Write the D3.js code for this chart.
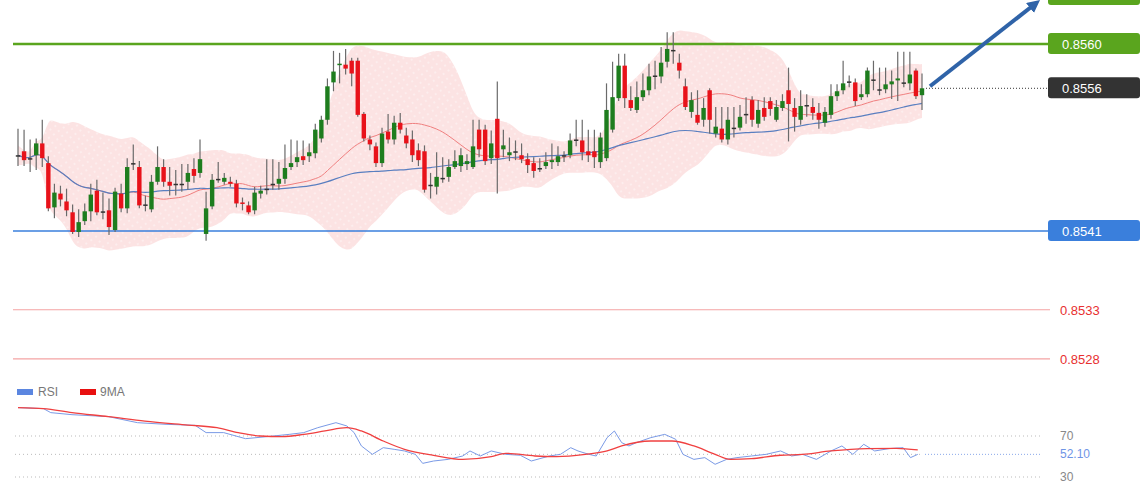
<!DOCTYPE html>
<html><head><meta charset="utf-8">
<script src="https://cdn.jsdelivr.net/npm/d3@7/dist/d3.min.js"></script>
<style>body{margin:0;background:#fff}svg{display:block;font-family:"Liberation Sans",Arial,sans-serif}</style>
</head><body><svg id="c" width="1140" height="500"></svg>
<script>
// candles: [open, close, high, low]
const candles = [
[0.85487,0.85487,0.85514,0.85476],[0.85491,0.85482,0.85513,0.85476],[0.85484,0.85484,0.85503,0.85470],[0.85487,0.85499,0.85504,0.85472],[0.85499,0.85484,0.85523,0.85475],
[0.85479,0.85433,0.85486,0.85430],[0.85434,0.85449,0.85458,0.85423],[0.85448,0.85442,0.85456,0.85435],[0.85440,0.85431,0.85453,0.85425],[0.85429,0.85409,0.85437,0.85407],
[0.85409,0.85419,0.85432,0.85404],[0.85420,0.85430,0.85438,0.85416],[0.85430,0.85447,0.85458,0.85420],[0.85451,0.85429,0.85462,0.85426],[0.85430,0.85430,0.85449,0.85422],
[0.85431,0.85414,0.85443,0.85406],[0.85411,0.85450,0.85454,0.85409],[0.85448,0.85433,0.85458,0.85429],[0.85433,0.85475,0.85484,0.85428],[0.85479,0.85479,0.85498,0.85472],
[0.85475,0.85436,0.85481,0.85433],[0.85437,0.85437,0.85446,0.85430],[0.85432,0.85460,0.85467,0.85429],[0.85460,0.85475,0.85496,0.85457],[0.85475,0.85460,0.85483,0.85455],
[0.85460,0.85456,0.85475,0.85446],[0.85458,0.85458,0.85472,0.85446],[0.85458,0.85458,0.85478,0.85450],[0.85460,0.85469,0.85478,0.85452],[0.85473,0.85466,0.85484,0.85459],
[0.85469,0.85483,0.85503,0.85464],[0.85407,0.85433,0.85450,0.85400],[0.85435,0.85462,0.85468,0.85432],[0.85463,0.85463,0.85480,0.85459],[0.85460,0.85464,0.85469,0.85457],
[0.85460,0.85458,0.85465,0.85455],[0.85458,0.85438,0.85462,0.85434],[0.85439,0.85438,0.85444,0.85431],[0.85436,0.85429,0.85440,0.85427],[0.85431,0.85449,0.85455,0.85427],
[0.85448,0.85451,0.85456,0.85443],[0.85453,0.85453,0.85483,0.85447],[0.85458,0.85458,0.85483,0.85452],[0.85458,0.85463,0.85480,0.85452],[0.85463,0.85474,0.85498,0.85458],
[0.85475,0.85479,0.85503,0.85472],[0.85480,0.85485,0.85502,0.85475],[0.85486,0.85482,0.85502,0.85477],[0.85486,0.85490,0.85499,0.85480],[0.85489,0.85513,0.85519,0.85484],
[0.85504,0.85523,0.85527,0.85500],[0.85523,0.85557,0.85565,0.85518],[0.85561,0.85572,0.85593,0.85552],[0.85579,0.85580,0.85591,0.85560],[0.85579,0.85575,0.85595,0.85569],
[0.85583,0.85570,0.85586,0.85557],[0.85583,0.85528,0.85586,0.85526],[0.85529,0.85504,0.85531,0.85501],[0.85503,0.85498,0.85507,0.85492],[0.85496,0.85479,0.85500,0.85475],
[0.85479,0.85509,0.85515,0.85475],[0.85511,0.85503,0.85529,0.85499],[0.85503,0.85520,0.85527,0.85498],[0.85520,0.85513,0.85530,0.85509],[0.85507,0.85499,0.85515,0.85494],
[0.85503,0.85487,0.85512,0.85480],[0.85492,0.85482,0.85499,0.85476],[0.85491,0.85452,0.85497,0.85449],[0.85457,0.85457,0.85469,0.85443],[0.85455,0.85465,0.85490,0.85447],
[0.85464,0.85464,0.85485,0.85459],[0.85465,0.85475,0.85483,0.85460],[0.85475,0.85481,0.85492,0.85473],[0.85476,0.85487,0.85494,0.85470],[0.85478,0.85481,0.85488,0.85472],
[0.85475,0.85496,0.85523,0.85473],[0.85513,0.85493,0.85523,0.85485],[0.85513,0.85481,0.85518,0.85477],[0.85484,0.85499,0.85512,0.85478],[0.85524,0.85484,0.85562,0.85448],
[0.85493,0.85497,0.85513,0.85485],[0.85487,0.85490,0.85505,0.85481],[0.85491,0.85491,0.85502,0.85482],[0.85487,0.85483,0.85499,0.85479],[0.85483,0.85477,0.85489,0.85469],
[0.85479,0.85471,0.85485,0.85464],[0.85474,0.85474,0.85484,0.85470],[0.85476,0.85480,0.85490,0.85473],[0.85480,0.85482,0.85499,0.85473],[0.85480,0.85486,0.85496,0.85476],
[0.85487,0.85487,0.85491,0.85480],[0.85487,0.85502,0.85509,0.85484],[0.85503,0.85503,0.85523,0.85496],[0.85502,0.85490,0.85523,0.85482],[0.85491,0.85487,0.85513,0.85480],
[0.85491,0.85485,0.85513,0.85474],[0.85480,0.85505,0.85510,0.85474],[0.85484,0.85533,0.85560,0.85481],[0.85513,0.85546,0.85582,0.85510],[0.85545,0.85578,0.85590,0.85542],
[0.85578,0.85545,0.85590,0.85535],[0.85543,0.85535,0.85557,0.85532],[0.85533,0.85546,0.85562,0.85530],[0.85546,0.85553,0.85570,0.85542],[0.85553,0.85567,0.85580,0.85548],
[0.85568,0.85568,0.85583,0.85554],[0.85567,0.85581,0.85597,0.85560],[0.85582,0.85595,0.85612,0.85576],[0.85594,0.85594,0.85612,0.85580],[0.85581,0.85573,0.85590,0.85565],
[0.85557,0.85536,0.85565,0.85533],[0.85531,0.85543,0.85551,0.85525],[0.85528,0.85520,0.85553,0.85518],[0.85523,0.85535,0.85545,0.85516],[0.85553,0.85523,0.85555,0.85509],
[0.85509,0.85516,0.85536,0.85505],[0.85514,0.85503,0.85536,0.85500],[0.85503,0.85523,0.85536,0.85498],[0.85515,0.85515,0.85536,0.85505],[0.85515,0.85526,0.85538,0.85512],
[0.85529,0.85529,0.85546,0.85519],[0.85543,0.85523,0.85547,0.85516],[0.85519,0.85533,0.85543,0.85515],[0.85535,0.85526,0.85546,0.85522],[0.85542,0.85534,0.85546,0.85527],
[0.85523,0.85536,0.85543,0.85521],[0.85535,0.85542,0.85549,0.85532],[0.85553,0.85539,0.85576,0.85501],[0.85535,0.85526,0.85545,0.85511],[0.85523,0.85537,0.85553,0.85518],
[0.85538,0.85538,0.85549,0.85526],[0.85536,0.85530,0.85545,0.85523],[0.85530,0.85523,0.85540,0.85514],[0.85520,0.85531,0.85536,0.85516],[0.85528,0.85547,0.85559,0.85524],
[0.85547,0.85552,0.85559,0.85542],[0.85553,0.85560,0.85583,0.85549],[0.85562,0.85562,0.85568,0.85556],[0.85561,0.85542,0.85565,0.85537],[0.85546,0.85549,0.85559,0.85543],
[0.85549,0.85573,0.85576,0.85546],[0.85564,0.85564,0.85583,0.85553],[0.85554,0.85554,0.85576,0.85548],[0.85554,0.85559,0.85576,0.85550],[0.85559,0.85562,0.85573,0.85544],
[0.85563,0.85565,0.85592,0.85542],[0.85561,0.85561,0.85592,0.85556],[0.85560,0.85569,0.85592,0.85553],[0.85573,0.85547,0.85575,0.85544],[0.85548,0.85555,0.85570,0.85533]
];
const rsiIdx = [0,4.2,5.4,8.9,14.9,19.7,24.4,29.2,31,33.9,37.5,41.1,44.7,47.1,49.4,52.4,54.2,55.4,56.6,58.4,60.2,62,63.7,65.5,66.7,68.5,70.9,73.3,74.5,76.2,78,80.4,82.8,84.6,87.6,89.4,91.1,92.3,94.1,95.3,97.1,98.3,99.5,100.7,101.9,104.3,106.6,108.4,109.6,111.4,113.2,114.9,116.8,118.5,120.9,123.3,125.7,127.5,129.3,131.6,134,135.8,137.6,139.4,141.2,143.6,145.9,147.1,148.3];
const rsiVal = [97.7,96.7,92.8,90.8,88.9,83.0,81.4,80.4,73.3,73.3,67.4,69.4,71.6,73.3,78.1,83.0,79.8,73.3,60.3,52.1,58.6,57.0,55.4,52.1,43.3,45.6,47.2,50.5,55.4,50.5,55.4,52.1,51.2,45.6,50.5,52.1,58.6,55.4,52.1,50.5,68.4,74.9,63.5,60.3,63.5,68.4,71.6,66.8,52.1,47.2,48.9,42.4,47.2,48.9,50.5,52.1,55.4,50.5,52.1,47.2,55.4,60.3,52.1,61.9,55.4,57.7,58.6,48.9,52.1];
const maIdx = [0,4.2,8.9,14.9,20.9,28,32.8,36.3,39.9,43.5,47.1,50.6,54.2,56.6,60.2,63.7,68.5,73.3,78,80.4,85.2,88.8,93.5,97.1,99.5,104.3,107.8,111.4,114.9,117.4,120.9,125.7,129.3,134,140,144.8,148.3];
const maVal = [97.7,96.7,92.8,88.9,84.6,80.7,78.1,73.3,70.0,69.4,71.6,74.9,78.1,74.9,65.1,57.0,51.2,47.2,49.9,53.1,50.5,49.9,52.1,55.4,60.3,65.1,65.1,60.3,52.1,47.2,47.9,51.2,52.1,55.4,57.7,58.0,56.4];
const levels = [
 {v:0.8560, color:"#5aa51e", label:"0.8560", box:true, w:2.5},
 {v:0.8541, color:"#3a7fdc", label:"0.8541", box:true, w:1.5},
 {v:0.8533, color:"#f4a3a3", label:"0.8533", box:false, w:1.2},
 {v:0.8528, color:"#f4a3a3", label:"0.8528", box:false, w:1.2}
];
const current = 0.85555, currentLabel = "0.8556", rsiLast = "52.10";
const rsiTicks = [70,30];

const svg = d3.select("#c");
const n = candles.length;
const x = d3.scaleLinear().domain([0, n-1]).range([18, 922]);
const y = d3.scaleLinear().domain([0.8541, 0.8560]).range([231, 44]);
const yr = d3.scaleLinear().domain([30, 70]).range([477, 436]);

const closes = candles.map(d=>d[1]);
function sma(p){return closes.map((c,i)=>{const s=closes.slice(Math.max(0,i-p+1),i+1);return d3.mean(s);});}
const mid = sma(20), slow = sma(60);
const band = closes.map((c,i)=>{const s=closes.slice(Math.max(0,i-19),i+1);const sd=d3.deviation(s)||0.00005;return [mid[i]+2*sd, mid[i]-2*sd];});

const defs = svg.append("defs");
const pat = defs.append("pattern").attr("id","dots").attr("width",6).attr("height",6).attr("patternUnits","userSpaceOnUse").attr("patternTransform","rotate(-35)");
pat.append("rect").attr("width",6).attr("height",6).attr("fill","#fbdcdc");
pat.append("circle").attr("cx",3).attr("cy",3).attr("r",0.7).attr("fill","#fff");
svg.append("path").datum(band).attr("fill","url(#dots)").attr("opacity",0.8)
  .attr("d", d3.area().x((d,i)=>x(i)).y0(d=>y(d[1])).y1(d=>y(d[0])).curve(d3.curveBasis));

levels.forEach(l=>{
  svg.append("line").attr("x1",13).attr("x2",1050).attr("y1",y(l.v)).attr("y2",y(l.v)).attr("stroke",l.color).attr("stroke-width",l.w);
  if(l.box){
    svg.append("rect").attr("x",1048).attr("y",y(l.v)-11).attr("width",92).attr("height",21).attr("rx",3).attr("fill",l.color);
    svg.append("text").attr("x",1062).attr("y",y(l.v)+5).attr("fill","#fff").attr("font-size",13).text(l.label);
  } else {
    svg.append("text").attr("x",1060).attr("y",y(l.v)+5).attr("fill","#e83030").attr("font-size",13).text(l.label);
  }
});
svg.append("rect").attr("x",1048).attr("y",-16).attr("width",92).attr("height",21).attr("rx",3).attr("fill","#5aa51e");

svg.append("path").datum(mid).attr("fill","none").attr("stroke","#f08080").attr("stroke-width",1)
  .attr("d", d3.line().x((d,i)=>x(i)).y(d=>y(d)).curve(d3.curveBasis));
svg.append("path").datum(slow).attr("fill","none").attr("stroke","#5a7fc0").attr("stroke-width",1.2)
  .attr("d", d3.line().x((d,i)=>x(i)).y(d=>y(d)).curve(d3.curveBasis));

const g = svg.append("g");
g.selectAll("line.w").data(candles).join("line").attr("x1",(d,i)=>x(i)).attr("x2",(d,i)=>x(i))
  .attr("y1",d=>y(d[2])).attr("y2",d=>y(d[3])).attr("stroke","#6a6a6a").attr("stroke-width",1.2);
g.selectAll("rect").data(candles).join("rect").attr("x",(d,i)=>x(i)-2.2).attr("width",4.4)
  .attr("y",d=>y(Math.max(d[0],d[1]))).attr("height",d=>Math.max(1.5,Math.abs(y(d[0])-y(d[1]))))
  .attr("fill",d=>d[1]>d[0]?"#1e7d1e":(d[1]<d[0]?"#e8121a":"#333"));

svg.append("line").attr("x1",x(n-1)+4).attr("x2",1050).attr("y1",y(current)).attr("y2",y(current)).attr("stroke","#333").attr("stroke-dasharray","1,2");
svg.append("rect").attr("x",1048).attr("y",y(current)-11).attr("width",92).attr("height",21).attr("rx",3).attr("fill","#333");
svg.append("text").attr("x",1062).attr("y",y(current)+5).attr("fill","#fff").attr("font-size",13).text(currentLabel);

defs.append("marker").attr("id","ah").attr("viewBox","0 0 10 10").attr("refX",5).attr("refY",5).attr("markerWidth",3.2).attr("markerHeight",3.2).attr("orient","auto")
  .append("path").attr("d","M0,0L10,5L0,10z").attr("fill","#2f63a8");
svg.append("line").attr("x1",x(n-1)+8).attr("y1",y(current)-2).attr("x2",1035).attr("y2",4).attr("stroke","#2f63a8").attr("stroke-width",4).attr("marker-end","url(#ah)");

svg.append("rect").attr("x",17).attr("y",389).attr("width",16).attr("height",6).attr("fill","#5b86e0");
svg.append("text").attr("x",38).attr("y",396).attr("fill","#777").attr("font-size",12).text("RSI");
svg.append("rect").attr("x",80).attr("y",389).attr("width",16).attr("height",6).attr("fill","#e81010");
svg.append("text").attr("x",100).attr("y",396).attr("fill","#777").attr("font-size",12).text("9MA");
rsiTicks.forEach(t=>{
  svg.append("line").attr("x1",15).attr("x2",1040).attr("y1",yr(t)).attr("y2",yr(t)).attr("stroke","#bbb").attr("stroke-dasharray","1,3");
  svg.append("text").attr("x",1060).attr("y",yr(t)+4).attr("fill","#888").attr("font-size",12).text(t);
});
const lastR = 52.1;
svg.append("line").attr("x1",15).attr("x2",920).attr("y1",yr(lastR)).attr("y2",yr(lastR)).attr("stroke","#bbb").attr("stroke-dasharray","1,3");
svg.append("line").attr("x1",925).attr("x2",1040).attr("y1",yr(lastR)).attr("y2",yr(lastR)).attr("stroke","#8aa8ea").attr("stroke-dasharray","1,2");
svg.append("text").attr("x",1060).attr("y",yr(lastR)+4).attr("fill","#6f95e6").attr("font-size",12).text(rsiLast);
svg.append("path").datum(rsiIdx.map((v,i)=>[v,rsiVal[i]])).attr("fill","none").attr("stroke","#7a9ae6").attr("stroke-width",1)
  .attr("d", d3.line().x(d=>x(d[0])).y(d=>yr(d[1])));
svg.append("path").datum(maIdx.map((v,i)=>[v,maVal[i]])).attr("fill","none").attr("stroke","#f04040").attr("stroke-width",1.3)
  .attr("d", d3.line().x(d=>x(d[0])).y(d=>yr(d[1])).curve(d3.curveMonotoneX));
</script></body></html>
